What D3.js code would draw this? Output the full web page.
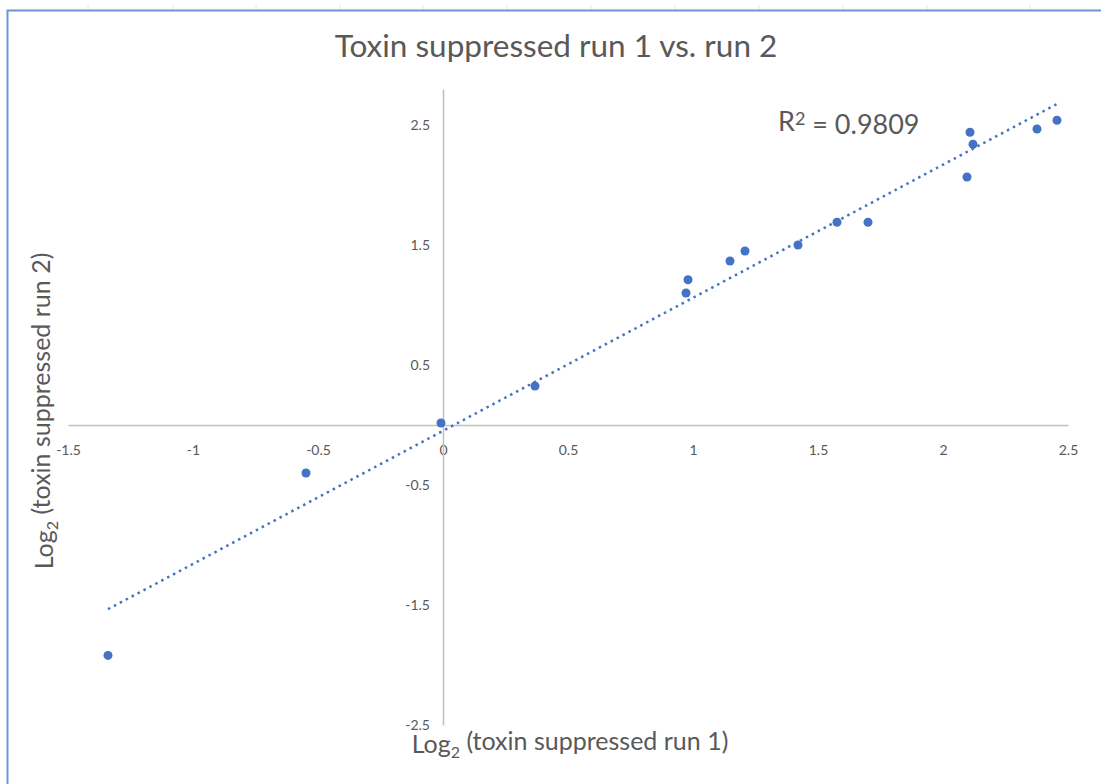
<!DOCTYPE html>
<html>
<head>
<meta charset="utf-8">
<script src="https://cdnjs.cloudflare.com/ajax/libs/d3/7.8.5/d3.min.js"></script>
<style>
  body { margin: 0; background: #fff; }
  text { font-family: Lato, "Open Sans", sans-serif; fill: #595959; }
</style>
</head>
<body>
<div id="chart"></div>
<script>
/* values */
var run1 = [-1.34, -0.548, -0.008, 0.368, 0.972, 0.98, 1.148, 1.208, 1.42, 1.576, 1.70, 2.096, 2.108, 2.12, 2.376, 2.456];
var run2 = [-1.92, -0.40, 0.017, 0.325, 1.10, 1.21, 1.367, 1.45, 1.50, 1.69, 1.69, 2.067, 2.44, 2.34, 2.467, 2.54];
var xTicks = [-1.5, -1, -0.5, 0, 0.5, 1, 1.5, 2, 2.5];
var yTicks = [-2.5, -1.5, -0.5, 0.5, 1.5, 2.5];
var rSquared = "0.9809";
var sheetCols = [88, 173, 256, 340, 423, 507, 591, 675, 759, 843, 927, 1030];

var drawChart = function(htmlID) {

	var width = 1101,
	    height = 784,
	    blue = "#4472c4";

	var svg = d3.select(htmlID)
			    .append("svg")
			    .attr("width", width)
			    .attr("height", height);

	/* spreadsheet column marks and chart frame */
	svg.append("g")
	    .selectAll("line")
	    .data(sheetCols)
	    .enter().append("line")
	    .attr("x1", function(d) { return d; })
	    .attr("x2", function(d) { return d; })
	    .attr("y1", 5)
	    .attr("y2", 10)
	    .attr("stroke", "#e4e4e4");

	svg.append("path")
	    .attr("d", "M7.5," + height + "V10.5H" + width)
	    .attr("fill", "none")
	    .attr("stroke", "#6f94d6")
	    .attr("stroke-width", 2);

	var x = d3.scaleLinear().domain([-1.5, 2.5]).range([68, 1068]);
	var y = d3.scaleLinear().domain([-2.5, 2.8]).range([725, 89]);

	var fmt = function(d) { return String(d); };

	/* axes cross at zero */
	var xAxis = svg.append("g")
	    .attr("transform", "translate(0," + y(0) + ")")
	    .call(d3.axisBottom(x).tickValues(xTicks).tickFormat(fmt).tickSize(0).tickPadding(20));

	var yAxis = svg.append("g")
	    .attr("transform", "translate(" + x(0) + ",0)")
	    .call(d3.axisLeft(y).tickValues(yTicks).tickFormat(fmt).tickSize(0).tickPadding(13));

	[xAxis, yAxis].forEach(function(a) {
		a.select(".domain").attr("stroke", "#bfbfbf").attr("stroke-width", 1.5);
		a.selectAll("text")
		    .attr("fill", "#595959")
		    .style("font-family", "Lato, sans-serif")
		    .style("font-size", "14px");
	});

	/* least squares trendline */
	var mx = d3.mean(run1),
	    my = d3.mean(run2),
	    sxy = d3.sum(run1, function(v, i) { return (v - mx) * (run2[i] - my); }),
	    sxx = d3.sum(run1, function(v) { return (v - mx) * (v - mx); }),
	    slope = sxy / sxx,
	    icpt = my - slope * mx;

	var line = d3.line()
	    .x(function(d) { return x(d); })
	    .y(function(d) { return y(icpt + slope * d); });

	svg.append("path")
	    .datum(d3.extent(run1))
	    .attr("d", line)
	    .attr("fill", "none")
	    .attr("stroke", blue)
	    .attr("stroke-width", 2.5)
	    .attr("stroke-dasharray", "2.5,4.2");

	svg.append("g")
	    .selectAll("circle")
	    .data(run1)
	    .enter().append("circle")
	    .attr("cx", function(d) { return x(d); })
	    .attr("cy", function(d, i) { return y(run2[i]); })
	    .attr("r", 4.5)
	    .attr("fill", blue);

	/* titles */
	svg.append("text")
	    .attr("x", 556)
	    .attr("y", 57)
	    .attr("text-anchor", "middle")
	    .style("font-size", "31.5px")
	    .text("Toxin suppressed run 1 vs. run 2");

	var r2 = svg.append("text")
	    .attr("x", 778)
	    .attr("y", 131)
	    .style("font-size", "27px");
	r2.append("tspan").text("R");
	r2.append("tspan").attr("dy", "-0.35em").style("font-size", "18px").text("2");
	r2.append("tspan").attr("dy", "0.35em").text(" = " + rSquared);

	var xt = svg.append("text")
	    .attr("x", 570)
	    .attr("y", 753)
	    .attr("text-anchor", "middle")
	    .style("font-size", "25px");
	xt.append("tspan").text("Log");
	xt.append("tspan").attr("dy", "0.3em").style("font-size", "16px").text("2");
	xt.append("tspan").attr("dy", "-0.3em").text(" (toxin suppressed run 1)");

	var yt = svg.append("text")
	    .attr("transform", "translate(53,411) rotate(-90)")
	    .attr("text-anchor", "middle")
	    .style("font-size", "25px");
	yt.append("tspan").text("Log");
	yt.append("tspan").attr("dy", "0.3em").style("font-size", "16px").text("2");
	yt.append("tspan").attr("dy", "-0.3em").text(" (toxin suppressed run 2)");
}

drawChart("#chart");
</script>
</body>
</html>
